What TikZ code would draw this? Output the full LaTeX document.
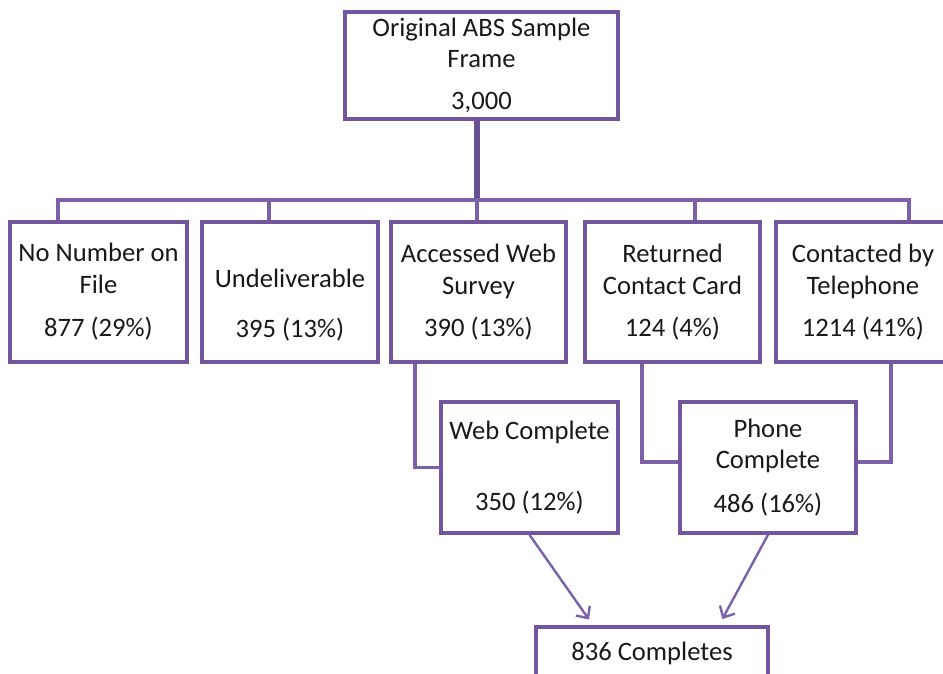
\documentclass[tikz,border=0pt]{standalone}
\usepackage{fontspec}
\setmainfont{Carlito}
\usetikzlibrary{arrows.meta}
\definecolor{boxline}{RGB}{114,86,158}
\definecolor{linkline}{RGB}{124,96,168}
\definecolor{trunkline}{RGB}{104,80,146}
\definecolor{inktext}{RGB}{25,25,25}
\tikzset{
  box/.style={draw=boxline, line width=3.6pt, fill=white, align=center, text=inktext, inner sep=0pt},
  link/.style={draw=linkline, line width=3.2pt},
  flow/.style={draw=linkline, line width=2.4pt, -{Straight Barb[length=9pt,width=17pt,line width=2.4pt]}, shorten >=7pt}
}
\begin{document}
\begin{tikzpicture}[x=1pt,y=-1pt,font=\fontsize{26.6}{31.5}\selectfont]
\useasboundingbox (0,0) rectangle (943,674);

% Kutular
\node[box, minimum width=273pt, minimum height=107pt] (orig) at (481.5,65.5) {Original ABS Sample\\Frame\\[10.5pt]3,000};

\node[box, minimum width=177pt, minimum height=140pt] (nonum) at (98.5,292) {No Number on\\File\\[12pt]877 (29\%)};
\node[box, minimum width=176pt, minimum height=140pt,
      label={[name=undtext, align=center, text=inktext, yshift=-13pt]center:Undeliverable\\[18.5pt]395 (13\%)}] (und) at (290,292) {};
\node[box, minimum width=175pt, minimum height=140pt] (acc) at (478.5,292) {Accessed Web\\Survey\\[10.5pt]390 (13\%)};
\node[box, minimum width=175pt, minimum height=140pt] (ret) at (672.5,292) {Returned\\Contact Card\\[10.5pt]124 (4\%)};
\node[box, minimum width=174pt, minimum height=140pt] (tel) at (863,292) {Contacted by\\Telephone\\[10.5pt]1214 (41\%)};

\node[box, minimum width=177pt, minimum height=131pt] (web) at (529.5,467.5) {Web Complete\\[39.5pt]350 (12\%)};
\node[box, minimum width=176pt, minimum height=131pt] (phone) at (768,467.5) {Phone\\Complete\\[12pt]486 (16\%)};

\node[box, minimum width=232pt, minimum height=53pt] (total) at (652,653.5) {836 Completes};

% Dallar
\coordinate (barL) at (58,200);
\coordinate (barR) at (909,200);
\draw[trunkline, line width=6.5pt] ([xshift=-4.5pt]orig.south) -- ([xshift=-4.5pt]orig.south |- barL);
\draw[link] (barL |- nonum.north) -- (barL) -- (barR) -- (barR |- tel.north);
\draw[link] ([xshift=-21pt]und.north) -- ([xshift=-21pt]und.north |- barL);
\draw[link] ([xshift=-1.5pt]acc.north) -- ([xshift=-1.5pt]acc.north |- barL);
\draw[link] ([xshift=22.5pt]ret.north) -- ([xshift=22.5pt]ret.north |- barL);

% Tamamlananlar
\draw[link] ([xshift=-63.5pt]acc.south) |- (web.west);
\draw[link] ([xshift=-30.5pt]ret.south) |- ([yshift=5.5pt]phone.west);
\draw[link] ([xshift=28pt]tel.south) |- ([yshift=5.5pt]phone.east);

\draw[flow] (web.south) -- ([xshift=-59pt]total.north);
\draw[flow] (phone.south) -- ([xshift=67pt]total.north);

\end{tikzpicture}
\end{document}
